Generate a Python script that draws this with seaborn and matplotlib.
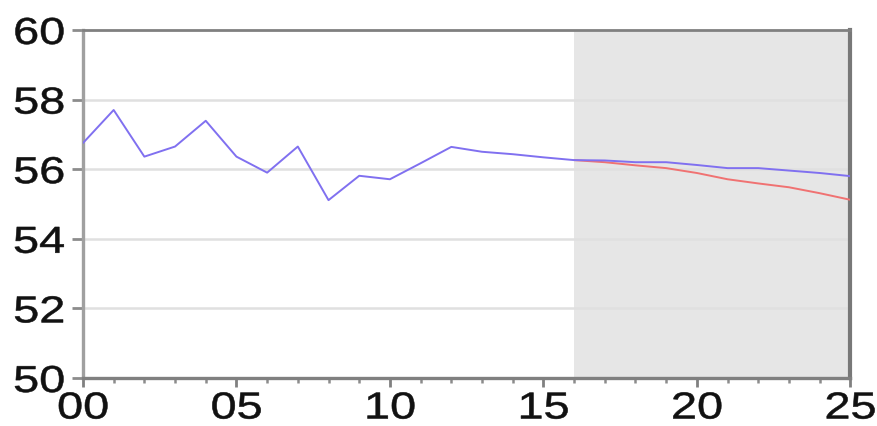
import matplotlib
matplotlib.use("Agg")
import matplotlib.pyplot as plt
import seaborn as sns
import pandas as pd
from matplotlib.ticker import MultipleLocator, FuncFormatter
from matplotlib.patheffects import AbstractPathEffect
from matplotlib.transforms import Affine2D

years = list(range(2000, 2026))
actual = [56.75, 57.70, 56.36, 56.65, 57.39, 56.36, 55.90, 56.65, 55.11, 55.81,
          55.71, 56.17, 56.64, 56.50, 56.43, 56.34, 56.26, 56.25, 56.20, 56.20,
          56.12, 56.03, 56.03, 55.96, 55.89, 55.80]
alt_years = list(range(2016, 2026))
alternative = [56.26, 56.20, 56.11, 56.03, 55.89, 55.71, 55.59, 55.48, 55.31, 55.12]

shade_start, shade_end = 2016, 2025


class WideGlyphs(AbstractPathEffect):
    """Widen glyphs horizontally (keeping the label's anchor edge fixed)
    and give them a thin outline so they read a little heavier."""

    def __init__(self, sx, anchor="center", stroke=0.4):
        super().__init__()
        self.sx = sx
        self.anchor = anchor
        self.stroke = stroke

    def draw_path(self, renderer, gc, tpath, affine, rgbFace=None):
        xs = tpath.vertices[:, 0]
        if len(xs) == 0:
            return
        x0, x1 = xs.min(), xs.max()
        ref = (x0 + x1) / 2 if self.anchor == "center" else x1
        stretch = Affine2D().translate(-ref, 0).scale(self.sx, 1).translate(ref, 0)
        gc0 = renderer.new_gc()
        gc0.copy_properties(gc)
        gc0.set_linewidth(self.stroke)
        if rgbFace is not None:
            gc0.set_foreground(rgbFace)
        renderer.draw_path(gc0, tpath, stretch + affine, rgbFace)
        gc0.restore()


sns.set_theme(style="white")
plt.rcParams['font.family'] = ['Liberation Sans', 'DejaVu Sans']

fig = plt.figure(figsize=(8.77, 4.26), dpi=100)
ax = fig.add_axes([0.0946, 0.1127, 0.875, 0.817])

ax.axvspan(shade_start, shade_end, color="#e6e6e6", zorder=0, lw=0)
for y in [52, 54, 56, 58]:
    ax.axhline(y, color="#e0e0e0", lw=1.8, zorder=1)

df_a = pd.DataFrame({"year": years, "value": actual})
df_b = pd.DataFrame({"year": alt_years, "value": alternative})
sns.lineplot(data=df_b, x="year", y="value", ax=ax, color="#f07272", lw=1.4, zorder=3)
sns.lineplot(data=df_a, x="year", y="value", ax=ax, color="#8070f0", lw=1.4, zorder=4)

ax.set_xlim(2000, 2025)
ax.set_ylim(50, 60)
ax.set_xlabel("")
ax.set_ylabel("")
ax.yaxis.set_major_locator(MultipleLocator(2))
ax.xaxis.set_major_locator(MultipleLocator(5))
ax.xaxis.set_minor_locator(MultipleLocator(1))
ax.xaxis.set_major_formatter(FuncFormatter(lambda v, p: f"{int(v) % 100:02d}"))
ax.yaxis.set_major_formatter(FuncFormatter(lambda v, p: f"{int(v)}"))

ax.spines["left"].set_color("#a0a0a0")
ax.spines["left"].set_linewidth(2.4)
ax.spines["bottom"].set_color("#808080")
ax.spines["bottom"].set_linewidth(2.4)
ax.spines["top"].set_color("#808080")
ax.spines["top"].set_linewidth(2)
ax.spines["right"].set_color("#787878")
ax.spines["right"].set_linewidth(3)

ax.tick_params(axis="y", which="major", direction="out", length=8, width=2,
               color="#8c8c8c", labelsize=27, pad=5, left=True, labelcolor="#111111")
ax.tick_params(axis="x", which="major", direction="out", length=6.5, width=2,
               color="#808080", labelsize=27, pad=2.5, bottom=True, labelcolor="#111111")
ax.tick_params(axis="x", which="minor", direction="out", length=3.5, width=1.8,
               color="#8c8c8c", bottom=True)

fig.canvas.draw()
for lab in ax.get_yticklabels():
    lab.set_path_effects([WideGlyphs(1.25, "right")])
for lab in ax.get_xticklabels():
    lab.set_path_effects([WideGlyphs(1.25, "center")])

fig.savefig("out.png", dpi=100, facecolor="white")
